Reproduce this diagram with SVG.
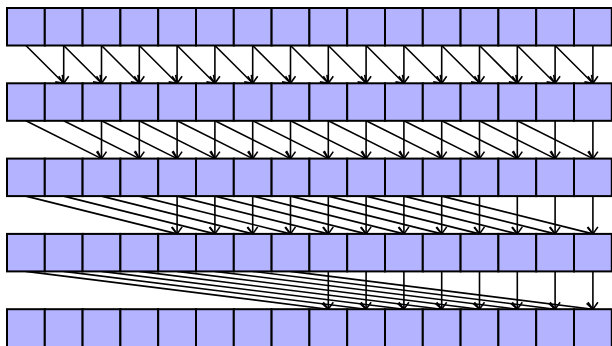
<svg xmlns="http://www.w3.org/2000/svg" width="612" height="346" viewBox="0 0 612 346">
<style>
.b{fill:#b3b3ff;stroke:#000;stroke-width:2}
.a{fill:none;stroke:#000;stroke-width:1.6;marker-end:url(#ah)}
</style>
<defs>
<marker id="ah" markerUnits="userSpaceOnUse" markerWidth="16" markerHeight="16" refX="0" refY="0" viewBox="-9 -8 16 16" orient="auto" overflow="visible">
<path d="M-7,-5 L0,0 L-7,5" fill="none" stroke="#000" stroke-width="1.6"/>
</marker>
</defs>
<rect width="612" height="346" fill="#fff"/>
<g id="connectors">
<g id="step1">
<line class="a" x1="63.7" y1="45.5" x2="63.7" y2="83.3"/><line class="a" x1="25.9" y1="45.5" x2="63.7" y2="83.3"/>
<line class="a" x1="101.5" y1="45.5" x2="101.5" y2="83.3"/><line class="a" x1="63.7" y1="45.5" x2="101.5" y2="83.3"/>
<line class="a" x1="139.3" y1="45.5" x2="139.3" y2="83.3"/><line class="a" x1="101.5" y1="45.5" x2="139.3" y2="83.3"/>
<line class="a" x1="177.1" y1="45.5" x2="177.1" y2="83.3"/><line class="a" x1="139.3" y1="45.5" x2="177.1" y2="83.3"/>
<line class="a" x1="214.9" y1="45.5" x2="214.9" y2="83.3"/><line class="a" x1="177.1" y1="45.5" x2="214.9" y2="83.3"/>
<line class="a" x1="252.7" y1="45.5" x2="252.7" y2="83.3"/><line class="a" x1="214.9" y1="45.5" x2="252.7" y2="83.3"/>
<line class="a" x1="290.5" y1="45.5" x2="290.5" y2="83.3"/><line class="a" x1="252.7" y1="45.5" x2="290.5" y2="83.3"/>
<line class="a" x1="328.3" y1="45.5" x2="328.3" y2="83.3"/><line class="a" x1="290.5" y1="45.5" x2="328.3" y2="83.3"/>
<line class="a" x1="366.1" y1="45.5" x2="366.1" y2="83.3"/><line class="a" x1="328.3" y1="45.5" x2="366.1" y2="83.3"/>
<line class="a" x1="403.9" y1="45.5" x2="403.9" y2="83.3"/><line class="a" x1="366.1" y1="45.5" x2="403.9" y2="83.3"/>
<line class="a" x1="441.7" y1="45.5" x2="441.7" y2="83.3"/><line class="a" x1="403.9" y1="45.5" x2="441.7" y2="83.3"/>
<line class="a" x1="479.5" y1="45.5" x2="479.5" y2="83.3"/><line class="a" x1="441.7" y1="45.5" x2="479.5" y2="83.3"/>
<line class="a" x1="517.3" y1="45.5" x2="517.3" y2="83.3"/><line class="a" x1="479.5" y1="45.5" x2="517.3" y2="83.3"/>
<line class="a" x1="555.1" y1="45.5" x2="555.1" y2="83.3"/><line class="a" x1="517.3" y1="45.5" x2="555.1" y2="83.3"/>
<line class="a" x1="592.9" y1="45.5" x2="592.9" y2="83.3"/><line class="a" x1="555.1" y1="45.5" x2="592.9" y2="83.3"/>
</g>
<g id="step2" transform="translate(0,75.3)">
<line class="a" x1="101.5" y1="45.5" x2="101.5" y2="83.3"/><line class="a" x1="25.9" y1="45.5" x2="101.5" y2="83.3"/>
<line class="a" x1="139.3" y1="45.5" x2="139.3" y2="83.3"/><line class="a" x1="63.7" y1="45.5" x2="139.3" y2="83.3"/>
<line class="a" x1="177.1" y1="45.5" x2="177.1" y2="83.3"/><line class="a" x1="101.5" y1="45.5" x2="177.1" y2="83.3"/>
<line class="a" x1="214.9" y1="45.5" x2="214.9" y2="83.3"/><line class="a" x1="139.3" y1="45.5" x2="214.9" y2="83.3"/>
<line class="a" x1="252.7" y1="45.5" x2="252.7" y2="83.3"/><line class="a" x1="177.1" y1="45.5" x2="252.7" y2="83.3"/>
<line class="a" x1="290.5" y1="45.5" x2="290.5" y2="83.3"/><line class="a" x1="214.9" y1="45.5" x2="290.5" y2="83.3"/>
<line class="a" x1="328.3" y1="45.5" x2="328.3" y2="83.3"/><line class="a" x1="252.7" y1="45.5" x2="328.3" y2="83.3"/>
<line class="a" x1="366.1" y1="45.5" x2="366.1" y2="83.3"/><line class="a" x1="290.5" y1="45.5" x2="366.1" y2="83.3"/>
<line class="a" x1="403.9" y1="45.5" x2="403.9" y2="83.3"/><line class="a" x1="328.3" y1="45.5" x2="403.9" y2="83.3"/>
<line class="a" x1="441.7" y1="45.5" x2="441.7" y2="83.3"/><line class="a" x1="366.1" y1="45.5" x2="441.7" y2="83.3"/>
<line class="a" x1="479.5" y1="45.5" x2="479.5" y2="83.3"/><line class="a" x1="403.9" y1="45.5" x2="479.5" y2="83.3"/>
<line class="a" x1="517.3" y1="45.5" x2="517.3" y2="83.3"/><line class="a" x1="441.7" y1="45.5" x2="517.3" y2="83.3"/>
<line class="a" x1="555.1" y1="45.5" x2="555.1" y2="83.3"/><line class="a" x1="479.5" y1="45.5" x2="555.1" y2="83.3"/>
<line class="a" x1="592.9" y1="45.5" x2="592.9" y2="83.3"/><line class="a" x1="517.3" y1="45.5" x2="592.9" y2="83.3"/>
</g>
<g id="step3" transform="translate(0,150.6)">
<line class="a" x1="177.1" y1="45.5" x2="177.1" y2="83.3"/><line class="a" x1="25.9" y1="45.5" x2="177.1" y2="83.3"/>
<line class="a" x1="214.9" y1="45.5" x2="214.9" y2="83.3"/><line class="a" x1="63.7" y1="45.5" x2="214.9" y2="83.3"/>
<line class="a" x1="252.7" y1="45.5" x2="252.7" y2="83.3"/><line class="a" x1="101.5" y1="45.5" x2="252.7" y2="83.3"/>
<line class="a" x1="290.5" y1="45.5" x2="290.5" y2="83.3"/><line class="a" x1="139.3" y1="45.5" x2="290.5" y2="83.3"/>
<line class="a" x1="328.3" y1="45.5" x2="328.3" y2="83.3"/><line class="a" x1="177.1" y1="45.5" x2="328.3" y2="83.3"/>
<line class="a" x1="366.1" y1="45.5" x2="366.1" y2="83.3"/><line class="a" x1="214.9" y1="45.5" x2="366.1" y2="83.3"/>
<line class="a" x1="403.9" y1="45.5" x2="403.9" y2="83.3"/><line class="a" x1="252.7" y1="45.5" x2="403.9" y2="83.3"/>
<line class="a" x1="441.7" y1="45.5" x2="441.7" y2="83.3"/><line class="a" x1="290.5" y1="45.5" x2="441.7" y2="83.3"/>
<line class="a" x1="479.5" y1="45.5" x2="479.5" y2="83.3"/><line class="a" x1="328.3" y1="45.5" x2="479.5" y2="83.3"/>
<line class="a" x1="517.3" y1="45.5" x2="517.3" y2="83.3"/><line class="a" x1="366.1" y1="45.5" x2="517.3" y2="83.3"/>
<line class="a" x1="555.1" y1="45.5" x2="555.1" y2="83.3"/><line class="a" x1="403.9" y1="45.5" x2="555.1" y2="83.3"/>
<line class="a" x1="592.9" y1="45.5" x2="592.9" y2="83.3"/><line class="a" x1="441.7" y1="45.5" x2="592.9" y2="83.3"/>
</g>
<g id="step4" transform="translate(0,225.9)">
<line class="a" x1="328.3" y1="45.5" x2="328.3" y2="83.3"/><line class="a" x1="25.9" y1="45.5" x2="328.3" y2="83.3"/>
<line class="a" x1="366.1" y1="45.5" x2="366.1" y2="83.3"/><line class="a" x1="63.7" y1="45.5" x2="366.1" y2="83.3"/>
<line class="a" x1="403.9" y1="45.5" x2="403.9" y2="83.3"/><line class="a" x1="101.5" y1="45.5" x2="403.9" y2="83.3"/>
<line class="a" x1="441.7" y1="45.5" x2="441.7" y2="83.3"/><line class="a" x1="139.3" y1="45.5" x2="441.7" y2="83.3"/>
<line class="a" x1="479.5" y1="45.5" x2="479.5" y2="83.3"/><line class="a" x1="177.1" y1="45.5" x2="479.5" y2="83.3"/>
<line class="a" x1="517.3" y1="45.5" x2="517.3" y2="83.3"/><line class="a" x1="214.9" y1="45.5" x2="517.3" y2="83.3"/>
<line class="a" x1="555.1" y1="45.5" x2="555.1" y2="83.3"/><line class="a" x1="252.7" y1="45.5" x2="555.1" y2="83.3"/>
<line class="a" x1="592.9" y1="45.5" x2="592.9" y2="83.3"/><line class="a" x1="290.5" y1="45.5" x2="592.9" y2="83.3"/>
</g>
</g>
<g id="row0" transform="translate(0,8)">
<g id="n0_0"><rect class="b" x="7" y="0" width="37.8" height="37.5"/></g>
<g id="n0_1"><rect class="b" x="44.8" y="0" width="37.8" height="37.5"/></g>
<g id="n0_2"><rect class="b" x="82.6" y="0" width="37.8" height="37.5"/></g>
<g id="n0_3"><rect class="b" x="120.4" y="0" width="37.8" height="37.5"/></g>
<g id="n0_4"><rect class="b" x="158.2" y="0" width="37.8" height="37.5"/></g>
<g id="n0_5"><rect class="b" x="196" y="0" width="37.8" height="37.5"/></g>
<g id="n0_6"><rect class="b" x="233.8" y="0" width="37.8" height="37.5"/></g>
<g id="n0_7"><rect class="b" x="271.6" y="0" width="37.8" height="37.5"/></g>
<g id="n0_8"><rect class="b" x="309.4" y="0" width="37.8" height="37.5"/></g>
<g id="n0_9"><rect class="b" x="347.2" y="0" width="37.8" height="37.5"/></g>
<g id="n0_10"><rect class="b" x="385" y="0" width="37.8" height="37.5"/></g>
<g id="n0_11"><rect class="b" x="422.8" y="0" width="37.8" height="37.5"/></g>
<g id="n0_12"><rect class="b" x="460.6" y="0" width="37.8" height="37.5"/></g>
<g id="n0_13"><rect class="b" x="498.4" y="0" width="37.8" height="37.5"/></g>
<g id="n0_14"><rect class="b" x="536.2" y="0" width="37.8" height="37.5"/></g>
<g id="n0_15"><rect class="b" x="574" y="0" width="37.8" height="37.5"/></g>
</g>
<g id="row1" transform="translate(0,83.3)">
<g id="n1_0"><rect class="b" x="7" y="0" width="37.8" height="37.5"/></g>
<g id="n1_1"><rect class="b" x="44.8" y="0" width="37.8" height="37.5"/></g>
<g id="n1_2"><rect class="b" x="82.6" y="0" width="37.8" height="37.5"/></g>
<g id="n1_3"><rect class="b" x="120.4" y="0" width="37.8" height="37.5"/></g>
<g id="n1_4"><rect class="b" x="158.2" y="0" width="37.8" height="37.5"/></g>
<g id="n1_5"><rect class="b" x="196" y="0" width="37.8" height="37.5"/></g>
<g id="n1_6"><rect class="b" x="233.8" y="0" width="37.8" height="37.5"/></g>
<g id="n1_7"><rect class="b" x="271.6" y="0" width="37.8" height="37.5"/></g>
<g id="n1_8"><rect class="b" x="309.4" y="0" width="37.8" height="37.5"/></g>
<g id="n1_9"><rect class="b" x="347.2" y="0" width="37.8" height="37.5"/></g>
<g id="n1_10"><rect class="b" x="385" y="0" width="37.8" height="37.5"/></g>
<g id="n1_11"><rect class="b" x="422.8" y="0" width="37.8" height="37.5"/></g>
<g id="n1_12"><rect class="b" x="460.6" y="0" width="37.8" height="37.5"/></g>
<g id="n1_13"><rect class="b" x="498.4" y="0" width="37.8" height="37.5"/></g>
<g id="n1_14"><rect class="b" x="536.2" y="0" width="37.8" height="37.5"/></g>
<g id="n1_15"><rect class="b" x="574" y="0" width="37.8" height="37.5"/></g>
</g>
<g id="row2" transform="translate(0,158.6)">
<g id="n2_0"><rect class="b" x="7" y="0" width="37.8" height="37.5"/></g>
<g id="n2_1"><rect class="b" x="44.8" y="0" width="37.8" height="37.5"/></g>
<g id="n2_2"><rect class="b" x="82.6" y="0" width="37.8" height="37.5"/></g>
<g id="n2_3"><rect class="b" x="120.4" y="0" width="37.8" height="37.5"/></g>
<g id="n2_4"><rect class="b" x="158.2" y="0" width="37.8" height="37.5"/></g>
<g id="n2_5"><rect class="b" x="196" y="0" width="37.8" height="37.5"/></g>
<g id="n2_6"><rect class="b" x="233.8" y="0" width="37.8" height="37.5"/></g>
<g id="n2_7"><rect class="b" x="271.6" y="0" width="37.8" height="37.5"/></g>
<g id="n2_8"><rect class="b" x="309.4" y="0" width="37.8" height="37.5"/></g>
<g id="n2_9"><rect class="b" x="347.2" y="0" width="37.8" height="37.5"/></g>
<g id="n2_10"><rect class="b" x="385" y="0" width="37.8" height="37.5"/></g>
<g id="n2_11"><rect class="b" x="422.8" y="0" width="37.8" height="37.5"/></g>
<g id="n2_12"><rect class="b" x="460.6" y="0" width="37.8" height="37.5"/></g>
<g id="n2_13"><rect class="b" x="498.4" y="0" width="37.8" height="37.5"/></g>
<g id="n2_14"><rect class="b" x="536.2" y="0" width="37.8" height="37.5"/></g>
<g id="n2_15"><rect class="b" x="574" y="0" width="37.8" height="37.5"/></g>
</g>
<g id="row3" transform="translate(0,233.9)">
<g id="n3_0"><rect class="b" x="7" y="0" width="37.8" height="37.5"/></g>
<g id="n3_1"><rect class="b" x="44.8" y="0" width="37.8" height="37.5"/></g>
<g id="n3_2"><rect class="b" x="82.6" y="0" width="37.8" height="37.5"/></g>
<g id="n3_3"><rect class="b" x="120.4" y="0" width="37.8" height="37.5"/></g>
<g id="n3_4"><rect class="b" x="158.2" y="0" width="37.8" height="37.5"/></g>
<g id="n3_5"><rect class="b" x="196" y="0" width="37.8" height="37.5"/></g>
<g id="n3_6"><rect class="b" x="233.8" y="0" width="37.8" height="37.5"/></g>
<g id="n3_7"><rect class="b" x="271.6" y="0" width="37.8" height="37.5"/></g>
<g id="n3_8"><rect class="b" x="309.4" y="0" width="37.8" height="37.5"/></g>
<g id="n3_9"><rect class="b" x="347.2" y="0" width="37.8" height="37.5"/></g>
<g id="n3_10"><rect class="b" x="385" y="0" width="37.8" height="37.5"/></g>
<g id="n3_11"><rect class="b" x="422.8" y="0" width="37.8" height="37.5"/></g>
<g id="n3_12"><rect class="b" x="460.6" y="0" width="37.8" height="37.5"/></g>
<g id="n3_13"><rect class="b" x="498.4" y="0" width="37.8" height="37.5"/></g>
<g id="n3_14"><rect class="b" x="536.2" y="0" width="37.8" height="37.5"/></g>
<g id="n3_15"><rect class="b" x="574" y="0" width="37.8" height="37.5"/></g>
</g>
<g id="row4" transform="translate(0,309.2)">
<g id="n4_0"><rect class="b" x="7" y="0" width="37.8" height="40"/></g>
<g id="n4_1"><rect class="b" x="44.8" y="0" width="37.8" height="40"/></g>
<g id="n4_2"><rect class="b" x="82.6" y="0" width="37.8" height="40"/></g>
<g id="n4_3"><rect class="b" x="120.4" y="0" width="37.8" height="40"/></g>
<g id="n4_4"><rect class="b" x="158.2" y="0" width="37.8" height="40"/></g>
<g id="n4_5"><rect class="b" x="196" y="0" width="37.8" height="40"/></g>
<g id="n4_6"><rect class="b" x="233.8" y="0" width="37.8" height="40"/></g>
<g id="n4_7"><rect class="b" x="271.6" y="0" width="37.8" height="40"/></g>
<g id="n4_8"><rect class="b" x="309.4" y="0" width="37.8" height="40"/></g>
<g id="n4_9"><rect class="b" x="347.2" y="0" width="37.8" height="40"/></g>
<g id="n4_10"><rect class="b" x="385" y="0" width="37.8" height="40"/></g>
<g id="n4_11"><rect class="b" x="422.8" y="0" width="37.8" height="40"/></g>
<g id="n4_12"><rect class="b" x="460.6" y="0" width="37.8" height="40"/></g>
<g id="n4_13"><rect class="b" x="498.4" y="0" width="37.8" height="40"/></g>
<g id="n4_14"><rect class="b" x="536.2" y="0" width="37.8" height="40"/></g>
<g id="n4_15"><rect class="b" x="574" y="0" width="37.8" height="40"/></g>
</g>
</svg>
